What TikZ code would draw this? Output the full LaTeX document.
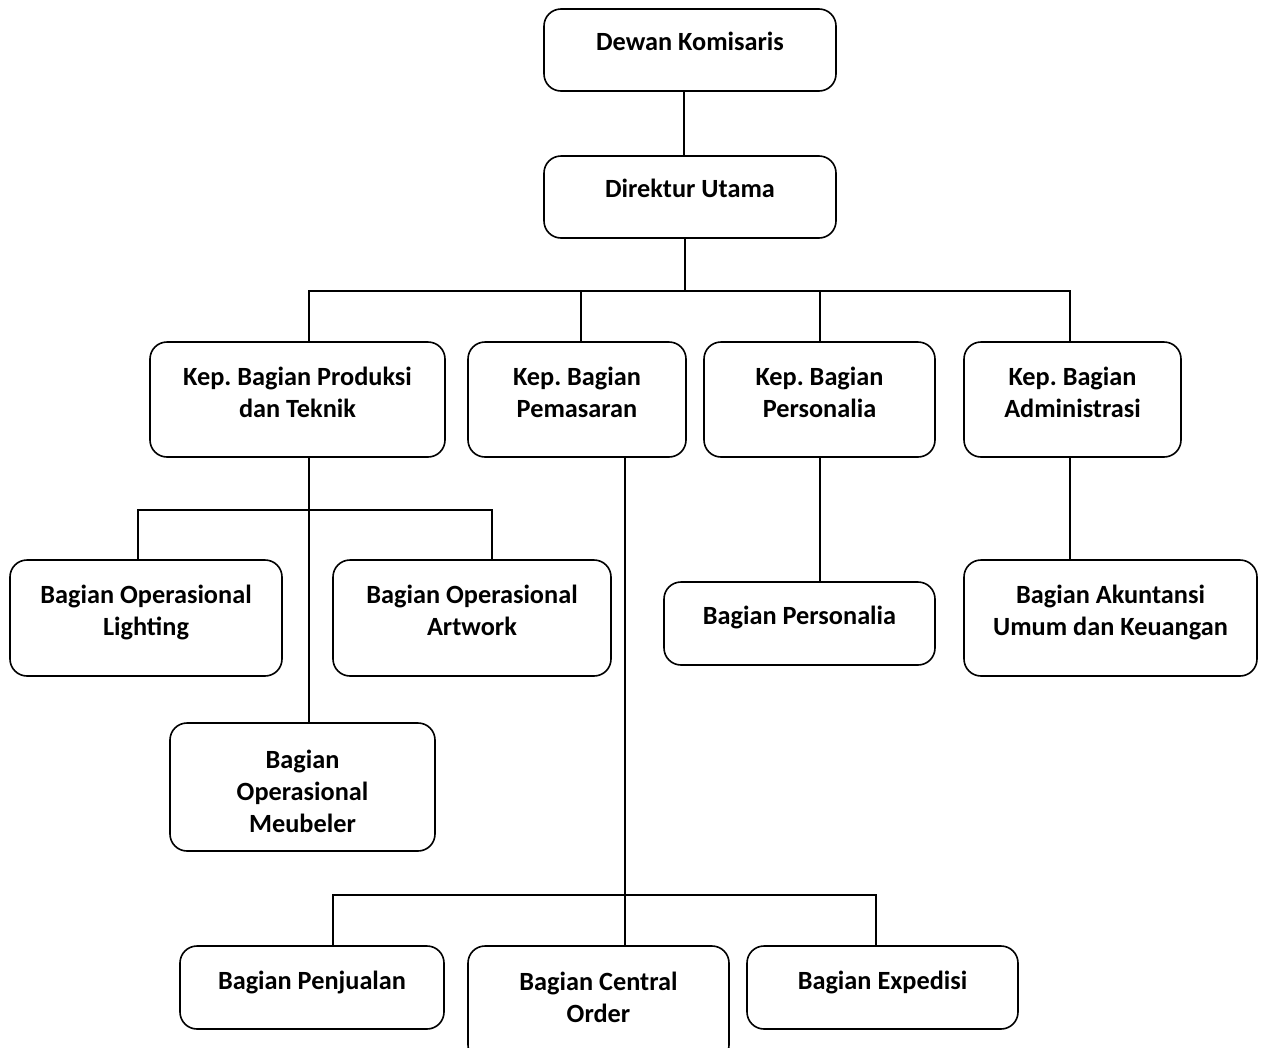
\documentclass[tikz,border=0pt]{standalone}
\usepackage{fontspec}
\setmainfont{Carlito}
\frenchspacing
\definecolor{orgink}{HTML}{000000}
\tikzset{
  org box/.style={draw=orgink, line width=1.6pt, rounded corners=17pt,
    fill=white, inner sep=0pt},
  org title/.style={font=\bfseries\fontsize{26.3}{32}\selectfont,
    text=orgink, align=center},
  org link/.style={draw=orgink, line width=1.6pt},
}

\begin{document}
\begin{tikzpicture}[x=1pt, y=-1pt]
  \useasboundingbox (0,0) rectangle (1261,1047);

  % Board and director.
  \node[org box, minimum width=292pt, minimum height=82pt,
    label={[org title, yshift=9pt]center:Dewan Komisaris}] (dk) at (690,50) {};
  \node[org box, minimum width=292pt, minimum height=82pt,
    label={[org title, yshift=9pt]center:Direktur Utama}] (du) at (690,197) {};

  % Heads of the four departments.
  \node[org box, minimum width=295pt, minimum height=115pt,
    label={[org title, yshift=7.5pt]center:Kep. Bagian Produksi\\dan Teknik}]
    (kprod) at (297.5,399.5) {};
  \node[org box, minimum width=218pt, minimum height=115pt,
    label={[org title, yshift=7.5pt]center:Kep. Bagian\\Pemasaran}]
    (kpem) at (577,399.5) {};
  \node[org box, minimum width=231pt, minimum height=115pt,
    label={[org title, yshift=7.5pt]center:Kep. Bagian\\Personalia}]
    (kper) at (819.5,399.5) {};
  \node[org box, minimum width=217pt, minimum height=115pt,
    label={[org title, yshift=7.5pt]center:Kep. Bagian\\Administrasi}]
    (kadm) at (1072.5,399.5) {};

  % Production units.
  \node[org box, minimum width=272pt, minimum height=116pt,
    label={[org title, yshift=5.5pt]center:Bagian Operasional\\Lighting}]
    (light) at (146,618) {};
  \node[org box, minimum width=278pt, minimum height=116pt,
    label={[org title, yshift=7.5pt]center:Bagian Operasional\\Artwork}]
    (art) at (472,618) {};
  \node[org box, minimum width=265pt, minimum height=128pt,
    label={[org title, yshift=-4pt]center:Bagian\\Operasional\\Meubeler}]
    (meub) at (302.5,787) {};

  % Personnel and administration units.
  \node[org box, minimum width=271pt, minimum height=83pt,
    label={[org title, yshift=6pt]center:Bagian Personalia}]
    (bper) at (799.5,623.5) {};
  \node[org box, minimum width=293pt, minimum height=116pt,
    label={[org title, yshift=5.5pt]center:Bagian Akuntansi\\Umum dan Keuangan}]
    (akun) at (1110.5,618) {};

  % Marketing units, the middle one runs off the page.
  \node[org box, minimum width=264pt, minimum height=83pt,
    label={[org title, yshift=5pt]center:Bagian Penjualan}]
    (penj) at (312,987.5) {};
  \node[org box, minimum width=261pt, minimum height=116pt,
    label={[org title, yshift=7pt]center:Bagian Central\\Order}]
    (cent) at (598.5,1004) {};
  \node[org box, minimum width=271pt, minimum height=83pt,
    label={[org title, yshift=5pt]center:Bagian Expedisi}]
    (exp) at (882.5,987.5) {};

  % Top of the tree.
  \draw[org link] ([xshift=-6pt]dk.south) -- ([xshift=-6pt]du.north);
  \coordinate (bus head) at (685,291);
  \draw[org link] ([xshift=-5pt]du.south) -- (bus head);
  \foreach \unit/\dx in {kprod/11.5, kpem/4, kper/0.5, kadm/-2.5}
    \draw[org link] (bus head) -| ([xshift=\dx pt]\unit.north);

  % Production branch.
  \coordinate (bus prod) at (309,510);
  \draw[org link] ([xshift=11.5pt]kprod.south) -- ([xshift=6.5pt]meub.north);
  \draw[org link] (bus prod) -| ([xshift=-8pt]light.north);
  \draw[org link] (bus prod) -| ([xshift=20pt]art.north);

  % Marketing branch.
  \coordinate (bus pem) at (625,895);
  \draw[org link] ([xshift=48pt]kpem.south) -- ([xshift=26.5pt]cent.north);
  \draw[org link] (bus pem) -| ([xshift=21pt]penj.north);
  \draw[org link] (bus pem) -| ([xshift=-6.5pt]exp.north);

  % Personnel and administration.
  \draw[org link] ([xshift=0.5pt]kper.south) -- ([xshift=20.5pt]bper.north);
  \draw[org link] ([xshift=-2.5pt]kadm.south) -- ([xshift=-40.5pt]akun.north);
\end{tikzpicture}
\end{document}
